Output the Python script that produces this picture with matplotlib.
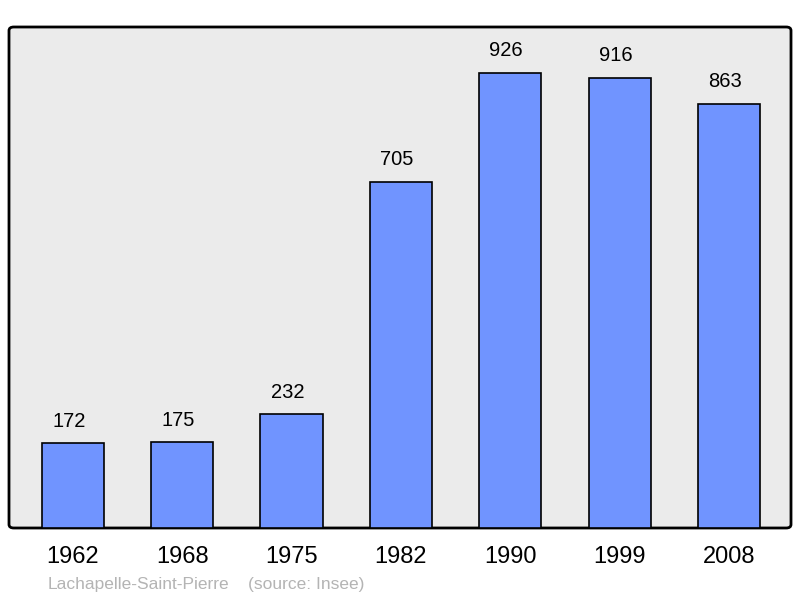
import matplotlib.pyplot as plt
from matplotlib.patches import FancyBboxPatch

plt.rcParams['font.family'] = ['Liberation Sans', 'DejaVu Sans']

years = ['1962', '1968', '1975', '1982', '1990', '1999', '2008']
population = [172, 175, 232, 705, 926, 916, 863]

fig = plt.figure(figsize=(8, 5.98), dpi=100)
# axes box in pixels: left 9, top 27, right 791, bottom 528
ax = fig.add_axes([9 / 800, 1 - 528 / 598, 782 / 800, 501 / 598])
ax.set_facecolor('none')

x = list(range(len(years)))
bars = ax.bar(x, population, width=0.57, color='#7094ff', edgecolor='black', linewidth=1.2, zorder=3)
for xi, v in zip(x, population):
    ax.annotate(str(v), (xi, v), xytext=(-3, 9), textcoords='offset points',
                ha='center', va='bottom', fontsize=14.5)

ax.set_xlim(-0.585, 6.567)
ax.set_ylim(0, 1019.6)
ax.set_xticks(x)
ax.set_xticklabels(years, fontsize=17)
ax.tick_params(axis='x', length=0, pad=13)
ax.set_yticks([])
for s in ax.spines.values():
    s.set_visible(False)

# rounded frame with grey background
frame = FancyBboxPatch((9 / 800, 1 - 528 / 598), 782 / 800, 501 / 598,
                       boxstyle='round,pad=0,rounding_size=0.006',
                       transform=fig.transFigure, facecolor='#ebebeb',
                       edgecolor='black', linewidth=2, zorder=-1)
fig.patches.append(frame)

fig.text(48 / 800, 1 - 584 / 598, 'Lachapelle-Saint-Pierre', color='#b4b4b4', fontsize=12.5, va='center')
fig.text(248 / 800, 1 - 584 / 598, '(source: Insee)', color='#b4b4b4', fontsize=12.5, va='center')

fig.savefig('out.png', dpi=100)
